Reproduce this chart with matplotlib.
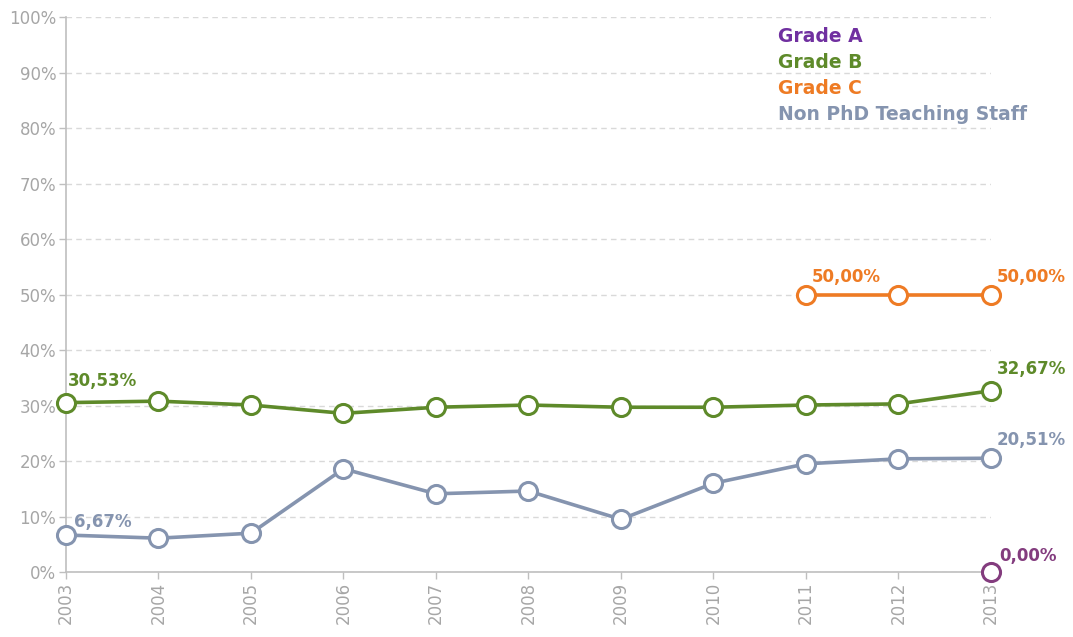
import matplotlib
matplotlib.use("Agg")
import matplotlib.pyplot as plt
from matplotlib.ticker import FuncFormatter

plt.rcParams['font.family'] = ['DejaVu Sans']

years = [2003, 2004, 2005, 2006, 2007, 2008, 2009, 2010, 2011, 2012, 2013]
grade_b = [30.53, 30.8, 30.1, 28.6, 29.7, 30.1, 29.7, 29.7, 30.1, 30.3, 32.67]
non_phd = [6.67, 6.1, 7.0, 18.6, 14.1, 14.6, 9.5, 16.0, 19.5, 20.4, 20.51]
grade_c_years = [2011, 2012, 2013]
grade_c = [50.0, 50.0, 50.0]
grade_a_years = [2013]
grade_a = [0.0]

c_a_legend = '#7030A0'
c_a_point = '#833C7E'
c_b = '#5E8A2A'
c_c = '#EE7B24'
c_n = '#8594AF'
grey = '#A6A6A6'

fig = plt.figure(figsize=(10.73, 6.37), dpi=100)
ax = fig.add_axes([0.0615, 0.102, 0.862, 0.871])

mk = dict(marker='o', markersize=13, markerfacecolor='white', markeredgewidth=2.2,
          linewidth=2.6, clip_on=False, zorder=3)
ax.plot(years, non_phd, color=c_n, **mk)
ax.plot(years, grade_b, color=c_b, **mk)
ax.plot(grade_c_years, grade_c, color=c_c, **mk)
ax.plot(grade_a_years, grade_a, color=c_a_point, **mk)

ax.set_xlim(2003, 2013)
ax.set_ylim(0, 100)
ax.set_xticks(years)
ax.set_xticklabels([str(y) for y in years], rotation=90)
ax.set_yticks(range(0, 101, 10))
ax.yaxis.set_major_formatter(FuncFormatter(lambda v, p: f"{int(v)}%"))
ax.tick_params(colors='#BFBFBF', labelcolor=grey, labelsize=12, length=5, width=1, pad=2)
ax.yaxis.grid(True, linestyle=(0, (4, 3)), color='#D9D9D9', linewidth=1)
ax.set_axisbelow(True)
for s in ['top', 'right']:
    ax.spines[s].set_visible(False)
for s in ['left', 'bottom']:
    ax.spines[s].set_color('#BFBFBF')
    ax.spines[s].set_linewidth(1.2)

fmt = lambda v: f"{v:.2f}%".replace('.', ',')
lab = dict(fontsize=12, fontweight='bold', ha='left', va='bottom')
ax.annotate(fmt(grade_b[0]), (years[0], grade_b[0]), xytext=(1, 9), textcoords='offset points', color=c_b, **lab)
ax.annotate(fmt(grade_b[-1]), (years[-1], grade_b[-1]), xytext=(4, 9), textcoords='offset points', color=c_b, **lab)
ax.annotate(fmt(non_phd[0]), (years[0], non_phd[0]), xytext=(6, 3), textcoords='offset points', color=c_n, **lab)
ax.annotate(fmt(non_phd[-1]), (years[-1], non_phd[-1]), xytext=(4, 7), textcoords='offset points', color=c_n, **lab)
ax.annotate(fmt(grade_c[0]), (grade_c_years[0], grade_c[0]), xytext=(4, 6), textcoords='offset points', color=c_c, **lab)
ax.annotate(fmt(grade_c[-1]), (grade_c_years[-1], grade_c[-1]), xytext=(4, 6), textcoords='offset points', color=c_c, **lab)
ax.annotate(fmt(grade_a[0]), (grade_a_years[0], grade_a[0]), xytext=(6, 5), textcoords='offset points', color=c_a_point, **lab)

legend_items = [("Grade A", c_a_legend), ("Grade B", c_b), ("Grade C", c_c), ("Non PhD Teaching Staff", c_n)]
for i, (t, c) in enumerate(legend_items):
    fig.text(778 / 1073, 1 - (36 + i * 26.3) / 637, t, color=c, fontsize=13.5, fontweight='bold',
             ha='left', va='center')

fig.savefig('out.png', dpi=100, facecolor='white')
